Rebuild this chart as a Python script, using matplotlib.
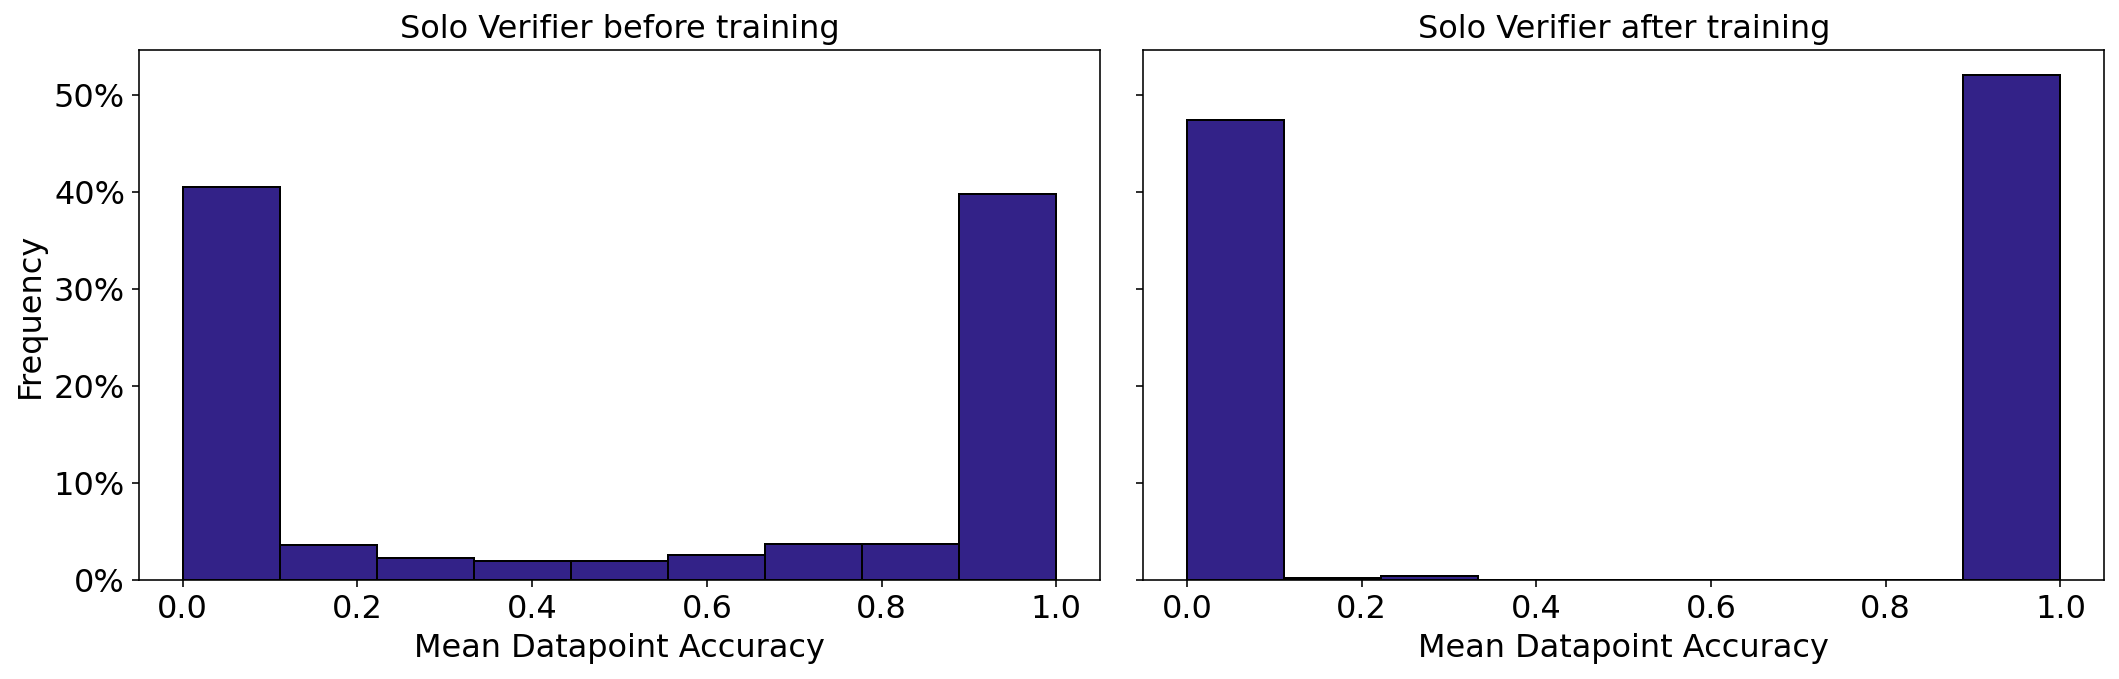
import numpy as np
import matplotlib
matplotlib.use('Agg')
import matplotlib.pyplot as plt
from matplotlib.ticker import PercentFormatter

# bin edges: 9 equal bins over [0, 1]
bin_edges = np.linspace(0, 1, 10)

# frequency per bin (%)
before_pct = [40.5, 3.56, 2.28, 1.91, 1.91, 2.57, 3.67, 3.67, 39.8]
after_pct = [47.4, 0.22, 0.40, 0.0, 0.0, 0.0, 0.0, 0.0, 52.0]

titles = ["Solo Verifier before training", "Solo Verifier after training"]
bar_color = "#332288"

fig, axes = plt.subplots(1, 2, figsize=(2119 / 144, 679 / 144), dpi=144, sharey=True)
fig.subplots_adjust(left=0.0656, right=0.993, top=0.926, bottom=0.146, wspace=0.045)

centers = (bin_edges[:-1] + bin_edges[1:]) / 2
for ax, vals, title in zip(axes, [before_pct, after_pct], titles):
    ax.hist(centers, bins=bin_edges, weights=vals, color=bar_color,
            edgecolor="black", linewidth=1.0)
    ax.set_title(title, fontsize=16)
    ax.set_xlabel("Mean Datapoint Accuracy", fontsize=16)
    ax.tick_params(labelsize=16)
    ax.yaxis.set_major_formatter(PercentFormatter(100))

axes[0].set_ylabel("Frequency", fontsize=16)

plt.savefig("out.png", dpi=144)
plt.close()
